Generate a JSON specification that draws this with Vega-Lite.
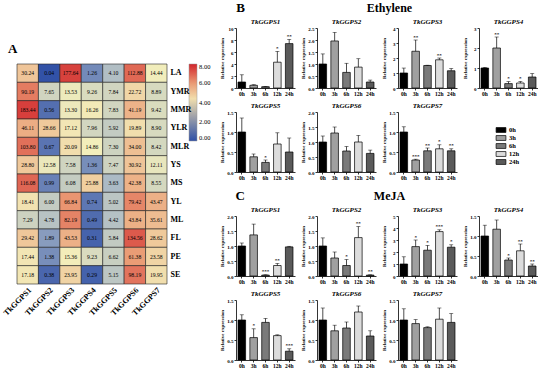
{
"$schema":"https://vega.github.io/schema/vega-lite/v6.json",
"padding":{"left":2,"top":2,"right":0,"bottom":0},
"spacing":8,
"resolve":{"scale":{"color":"independent"},"legend":{"color":"independent"}},
"datasets":{
"heat":[
{"r":"LA","g":"TkGGPS1","val":30.24},{"r":"LA","g":"TkGGPS2","val":0.04},{"r":"LA","g":"TkGGPS3","val":177.64},{"r":"LA","g":"TkGGPS4","val":1.26},{"r":"LA","g":"TkGGPS5","val":4.10},{"r":"LA","g":"TkGGPS6","val":112.88},{"r":"LA","g":"TkGGPS7","val":14.44},
{"r":"YMR","g":"TkGGPS1","val":90.19},{"r":"YMR","g":"TkGGPS2","val":7.65},{"r":"YMR","g":"TkGGPS3","val":13.53},{"r":"YMR","g":"TkGGPS4","val":9.26},{"r":"YMR","g":"TkGGPS5","val":7.84},{"r":"YMR","g":"TkGGPS6","val":22.72},{"r":"YMR","g":"TkGGPS7","val":8.89},
{"r":"MMR","g":"TkGGPS1","val":183.44},{"r":"MMR","g":"TkGGPS2","val":0.56},{"r":"MMR","g":"TkGGPS3","val":13.30},{"r":"MMR","g":"TkGGPS4","val":16.26},{"r":"MMR","g":"TkGGPS5","val":7.83},{"r":"MMR","g":"TkGGPS6","val":41.19},{"r":"MMR","g":"TkGGPS7","val":9.42},
{"r":"YLR","g":"TkGGPS1","val":46.11},{"r":"YLR","g":"TkGGPS2","val":28.66},{"r":"YLR","g":"TkGGPS3","val":17.12},{"r":"YLR","g":"TkGGPS4","val":7.96},{"r":"YLR","g":"TkGGPS5","val":5.92},{"r":"YLR","g":"TkGGPS6","val":19.89},{"r":"YLR","g":"TkGGPS7","val":8.90},
{"r":"MLR","g":"TkGGPS1","val":103.80},{"r":"MLR","g":"TkGGPS2","val":0.67},{"r":"MLR","g":"TkGGPS3","val":20.09},{"r":"MLR","g":"TkGGPS4","val":14.86},{"r":"MLR","g":"TkGGPS5","val":7.30},{"r":"MLR","g":"TkGGPS6","val":34.00},{"r":"MLR","g":"TkGGPS7","val":8.42},
{"r":"YS","g":"TkGGPS1","val":28.80},{"r":"YS","g":"TkGGPS2","val":12.58},{"r":"YS","g":"TkGGPS3","val":7.58},{"r":"YS","g":"TkGGPS4","val":1.36},{"r":"YS","g":"TkGGPS5","val":7.47},{"r":"YS","g":"TkGGPS6","val":30.92},{"r":"YS","g":"TkGGPS7","val":12.11},
{"r":"MS","g":"TkGGPS1","val":116.08},{"r":"MS","g":"TkGGPS2","val":0.99},{"r":"MS","g":"TkGGPS3","val":6.08},{"r":"MS","g":"TkGGPS4","val":25.88},{"r":"MS","g":"TkGGPS5","val":3.63},{"r":"MS","g":"TkGGPS6","val":42.38},{"r":"MS","g":"TkGGPS7","val":8.55},
{"r":"YL","g":"TkGGPS1","val":18.41},{"r":"YL","g":"TkGGPS2","val":6.00},{"r":"YL","g":"TkGGPS3","val":66.84},{"r":"YL","g":"TkGGPS4","val":0.74},{"r":"YL","g":"TkGGPS5","val":5.02},{"r":"YL","g":"TkGGPS6","val":79.42},{"r":"YL","g":"TkGGPS7","val":43.47},
{"r":"ML","g":"TkGGPS1","val":7.29},{"r":"ML","g":"TkGGPS2","val":4.78},{"r":"ML","g":"TkGGPS3","val":82.19},{"r":"ML","g":"TkGGPS4","val":0.49},{"r":"ML","g":"TkGGPS5","val":4.42},{"r":"ML","g":"TkGGPS6","val":43.84},{"r":"ML","g":"TkGGPS7","val":35.61},
{"r":"FL","g":"TkGGPS1","val":29.42},{"r":"FL","g":"TkGGPS2","val":1.89},{"r":"FL","g":"TkGGPS3","val":43.53},{"r":"FL","g":"TkGGPS4","val":0.31},{"r":"FL","g":"TkGGPS5","val":5.84},{"r":"FL","g":"TkGGPS6","val":134.56},{"r":"FL","g":"TkGGPS7","val":28.62},
{"r":"PE","g":"TkGGPS1","val":17.44},{"r":"PE","g":"TkGGPS2","val":1.38},{"r":"PE","g":"TkGGPS3","val":15.36},{"r":"PE","g":"TkGGPS4","val":9.23},{"r":"PE","g":"TkGGPS5","val":6.62},{"r":"PE","g":"TkGGPS6","val":61.38},{"r":"PE","g":"TkGGPS7","val":23.58},
{"r":"SE","g":"TkGGPS1","val":17.18},{"r":"SE","g":"TkGGPS2","val":0.38},{"r":"SE","g":"TkGGPS3","val":23.95},{"r":"SE","g":"TkGGPS4","val":0.29},{"r":"SE","g":"TkGGPS5","val":5.15},{"r":"SE","g":"TkGGPS6","val":98.19},{"r":"SE","g":"TkGGPS7","val":19.95}
],
"bars":[
{"t":"E","g":"TkGGPS1","time":"0h","v":1.0,"hi":2.2,"sig":""},{"t":"E","g":"TkGGPS1","time":"3h","v":0.45,"hi":0.55,"sig":""},{"t":"E","g":"TkGGPS1","time":"6h","v":0.22,"hi":0.27,"sig":""},{"t":"E","g":"TkGGPS1","time":"12h","v":4.3,"hi":6.1,"sig":"*"},{"t":"E","g":"TkGGPS1","time":"24h","v":7.4,"hi":8.1,"sig":"**"},
{"t":"E","g":"TkGGPS2","time":"0h","v":1.0,"hi":1.42,"sig":""},{"t":"E","g":"TkGGPS2","time":"3h","v":1.96,"hi":2.32,"sig":""},{"t":"E","g":"TkGGPS2","time":"6h","v":0.65,"hi":1.03,"sig":""},{"t":"E","g":"TkGGPS2","time":"12h","v":0.87,"hi":1.22,"sig":""},{"t":"E","g":"TkGGPS2","time":"24h","v":0.25,"hi":0.33,"sig":""},
{"t":"E","g":"TkGGPS3","time":"0h","v":1.0,"hi":1.33,"sig":""},{"t":"E","g":"TkGGPS3","time":"3h","v":2.45,"hi":3.2,"sig":"**"},{"t":"E","g":"TkGGPS3","time":"6h","v":1.5,"hi":1.52,"sig":""},{"t":"E","g":"TkGGPS3","time":"12h","v":1.88,"hi":2.0,"sig":"**"},{"t":"E","g":"TkGGPS3","time":"24h","v":1.15,"hi":1.3,"sig":""},
{"t":"E","g":"TkGGPS4","time":"0h","v":1.0,"hi":1.03,"sig":""},{"t":"E","g":"TkGGPS4","time":"3h","v":2.0,"hi":2.55,"sig":"**"},{"t":"E","g":"TkGGPS4","time":"6h","v":0.22,"hi":0.32,"sig":"*"},{"t":"E","g":"TkGGPS4","time":"12h","v":0.25,"hi":0.33,"sig":"*"},{"t":"E","g":"TkGGPS4","time":"24h","v":0.55,"hi":0.72,"sig":""},
{"t":"E","g":"TkGGPS5","time":"0h","v":1.0,"hi":1.35,"sig":""},{"t":"E","g":"TkGGPS5","time":"3h","v":0.38,"hi":0.45,"sig":""},{"t":"E","g":"TkGGPS5","time":"6h","v":0.24,"hi":0.3,"sig":"*"},{"t":"E","g":"TkGGPS5","time":"12h","v":0.7,"hi":0.98,"sig":""},{"t":"E","g":"TkGGPS5","time":"24h","v":0.5,"hi":0.85,"sig":""},
{"t":"E","g":"TkGGPS6","time":"0h","v":1.0,"hi":1.2,"sig":""},{"t":"E","g":"TkGGPS6","time":"3h","v":1.3,"hi":1.5,"sig":""},{"t":"E","g":"TkGGPS6","time":"6h","v":0.7,"hi":0.85,"sig":""},{"t":"E","g":"TkGGPS6","time":"12h","v":1.0,"hi":1.22,"sig":""},{"t":"E","g":"TkGGPS6","time":"24h","v":0.62,"hi":0.73,"sig":""},
{"t":"E","g":"TkGGPS7","time":"0h","v":1.0,"hi":1.13,"sig":""},{"t":"E","g":"TkGGPS7","time":"3h","v":0.3,"hi":0.32,"sig":"***"},{"t":"E","g":"TkGGPS7","time":"6h","v":0.53,"hi":0.6,"sig":"**"},{"t":"E","g":"TkGGPS7","time":"12h","v":0.58,"hi":0.68,"sig":"*"},{"t":"E","g":"TkGGPS7","time":"24h","v":0.53,"hi":0.58,"sig":"**"},
{"t":"M","g":"TkGGPS1","time":"0h","v":1.0,"hi":1.1,"sig":""},{"t":"M","g":"TkGGPS1","time":"3h","v":1.37,"hi":1.73,"sig":""},{"t":"M","g":"TkGGPS1","time":"6h","v":0.03,"hi":0.04,"sig":"***"},{"t":"M","g":"TkGGPS1","time":"12h","v":0.35,"hi":0.42,"sig":"**"},{"t":"M","g":"TkGGPS1","time":"24h","v":0.97,"hi":0.99,"sig":""},
{"t":"M","g":"TkGGPS2","time":"0h","v":1.0,"hi":1.27,"sig":""},{"t":"M","g":"TkGGPS2","time":"3h","v":0.6,"hi":0.8,"sig":""},{"t":"M","g":"TkGGPS2","time":"6h","v":0.35,"hi":0.55,"sig":"*"},{"t":"M","g":"TkGGPS2","time":"12h","v":1.28,"hi":1.65,"sig":"**"},{"t":"M","g":"TkGGPS2","time":"24h","v":0.03,"hi":0.04,"sig":"**"},
{"t":"M","g":"TkGGPS3","time":"0h","v":1.0,"hi":1.6,"sig":""},{"t":"M","g":"TkGGPS3","time":"3h","v":2.45,"hi":3.0,"sig":"*"},{"t":"M","g":"TkGGPS3","time":"6h","v":2.15,"hi":2.55,"sig":"*"},{"t":"M","g":"TkGGPS3","time":"12h","v":3.7,"hi":3.85,"sig":"***"},{"t":"M","g":"TkGGPS3","time":"24h","v":2.4,"hi":2.6,"sig":"*"},
{"t":"M","g":"TkGGPS4","time":"0h","v":1.0,"hi":1.27,"sig":""},{"t":"M","g":"TkGGPS4","time":"3h","v":1.17,"hi":1.4,"sig":""},{"t":"M","g":"TkGGPS4","time":"6h","v":0.4,"hi":0.45,"sig":"*"},{"t":"M","g":"TkGGPS4","time":"12h","v":0.63,"hi":0.8,"sig":"**"},{"t":"M","g":"TkGGPS4","time":"24h","v":0.25,"hi":0.3,"sig":"**"},
{"t":"M","g":"TkGGPS5","time":"0h","v":1.0,"hi":1.13,"sig":""},{"t":"M","g":"TkGGPS5","time":"3h","v":0.56,"hi":0.78,"sig":"*"},{"t":"M","g":"TkGGPS5","time":"6h","v":0.94,"hi":1.04,"sig":""},{"t":"M","g":"TkGGPS5","time":"12h","v":0.61,"hi":0.63,"sig":""},{"t":"M","g":"TkGGPS5","time":"24h","v":0.22,"hi":0.28,"sig":"***"},
{"t":"M","g":"TkGGPS6","time":"0h","v":1.0,"hi":1.3,"sig":""},{"t":"M","g":"TkGGPS6","time":"3h","v":0.73,"hi":0.87,"sig":""},{"t":"M","g":"TkGGPS6","time":"6h","v":0.8,"hi":0.95,"sig":""},{"t":"M","g":"TkGGPS6","time":"12h","v":1.2,"hi":1.35,"sig":""},{"t":"M","g":"TkGGPS6","time":"24h","v":0.6,"hi":0.73,"sig":""},
{"t":"M","g":"TkGGPS7","time":"0h","v":1.0,"hi":1.28,"sig":""},{"t":"M","g":"TkGGPS7","time":"3h","v":0.91,"hi":1.01,"sig":""},{"t":"M","g":"TkGGPS7","time":"6h","v":0.81,"hi":0.83,"sig":""},{"t":"M","g":"TkGGPS7","time":"12h","v":1.02,"hi":1.3,"sig":""},{"t":"M","g":"TkGGPS7","time":"24h","v":0.94,"hi":1.16,"sig":""}
]},
"hconcat":[
{"spacing":13,
"resolve":{"scale":{"color":"independent"},"legend":{"color":"independent"}},
"vconcat":[
{"width":1,"height":1,"data":{"values":[]},"mark":"point"},
{
"data":{"name":"heat"},
"width":150,"height":220,
"title":{"text":"A","anchor":"start","frame":"group","fontSize":13,"fontWeight":"bold","fontStyle":"normal","offset":8,"dx":-9},
"encoding":{
 "x":{"field":"g","type":"nominal","sort":["TkGGPS1","TkGGPS2","TkGGPS3","TkGGPS4","TkGGPS5","TkGGPS6","TkGGPS7"],"title":null,
  "axis":{"orient":"bottom","labelAngle":-45,"labelFontSize":8,"labelFontWeight":"bold","ticks":false,"domain":false,"labelPadding":2}},
 "y":{"field":"r","type":"nominal","sort":["LA","YMR","MMR","YLR","MLR","YS","MS","YL","ML","FL","PE","SE"],"title":null,
  "axis":{"orient":"right","labelFontSize":8,"labelFontWeight":"bold","ticks":false,"domain":false,"labelPadding":3,"minExtent":0,"maxExtent":100}}
},
"layer":[
 {"mark":{"type":"rect","stroke":"#222222","strokeWidth":0.6},
  "encoding":{"color":{"field":"val","type":"quantitative",
   "scale":{"type":"symlog","domain":[0,3,15,63,255],"range":["#2f4fa6","#a3b4c6","#f3eebb","#ea9a74","#d1232a"],"interpolate":"rgb","clamp":true},
   "legend":{"orient":"right","offset":-2,"padding":0,"title":null,"direction":"vertical","gradientLength":77,"gradientThickness":8,"values":[0,3,15,63,255],"labelExpr":"format(log(datum.value+1)/log(2),'.2f')","labelFont":"Liberation Serif","labelFontWeight":"normal","labelFontSize":6.5,"labelColor":"black","labelOffset":2,"gradientStrokeColor":"#999","gradientStrokeWidth":0.5}}}},
 {"mark":{"type":"text","fontSize":5.7,"baseline":"middle","dy":0,"fontWeight":"normal","font":"Liberation Serif","color":"black"},
  "encoding":{"text":{"field":"val","type":"quantitative","format":".2f"}}}
]
}]},
{
"data":{"name":"bars"},
"spacing":9,
"vconcat":[
{"title":{"text":"B","orient":"left","angle":0,"anchor":"end","frame":"bounds","align":"left","baseline":"top","fontSize":13,"fontStyle":"normal","offset":0,"dx":26},
 "vconcat":[{"title":{"text":"Ethylene","fontSize":12,"fontStyle":"normal","anchor":"middle","offset":3,"dx":11},
  "spacing":5,
  "vconcat":[
  {"hconcat":[
   {"width":59,"height":60,"title":"TkGGPS1","transform":[{"filter":"datum.t==='E'&&datum.g==='TkGGPS1'"}],
    "encoding":{"x":{"field":"time","type":"nominal","sort":["0h","3h","6h","12h","24h"],"title":null,"scale":{"paddingInner":0.36,"paddingOuter":0.17}},
     "y":{"field":"v","type":"quantitative","title":"Relative expression","scale":{"domain":[0,10]},"axis":{"values":[0,2,4,6,8,10],"format":"d"}}},
    "layer":[{"mark":"bar","encoding":{"fill":{"field":"time","type":"nominal","scale":{"domain":["0h","3h","6h","12h","24h"],"range":["#000000","#a0a0a0","#7a7a7a","#dcdcdc","#5a5a5a"]}}}},
     {"mark":"rule","encoding":{"y2":{"field":"hi"}}},
     {"mark":{"type":"tick","size":4},"encoding":{"y":{"field":"hi","type":"quantitative","title":"Relative expression","scale":{"domain":[0,10]},"axis":{"values":[0,2,4,6,8,10],"format":"d"}}}},
     {"mark":"text","encoding":{"y":{"field":"hi","type":"quantitative","title":"Relative expression","scale":{"domain":[0,10]},"axis":{"values":[0,2,4,6,8,10],"format":"d"}},"text":{"field":"sig"}}}]},
   {"width":59,"height":60,"title":"TkGGPS2","transform":[{"filter":"datum.t==='E'&&datum.g==='TkGGPS2'"}],
    "encoding":{"x":{"field":"time","type":"nominal","sort":["0h","3h","6h","12h","24h"],"title":null,"scale":{"paddingInner":0.36,"paddingOuter":0.17}},
     "y":{"field":"v","type":"quantitative","title":"Relative expression","scale":{"domain":[0,2.5]},"axis":{"values":[0,0.5,1,1.5,2,2.5],"format":".1f"}}},
    "layer":[{"mark":"bar","encoding":{"fill":{"field":"time","type":"nominal","scale":{"domain":["0h","3h","6h","12h","24h"],"range":["#000000","#a0a0a0","#7a7a7a","#dcdcdc","#5a5a5a"]}}}},
     {"mark":"rule","encoding":{"y2":{"field":"hi"}}},
     {"mark":{"type":"tick","size":4},"encoding":{"y":{"field":"hi","type":"quantitative","title":"Relative expression","scale":{"domain":[0,2.5]},"axis":{"values":[0,0.5,1,1.5,2,2.5],"format":".1f"}}}},
     {"mark":"text","encoding":{"y":{"field":"hi","type":"quantitative","title":"Relative expression","scale":{"domain":[0,2.5]},"axis":{"values":[0,0.5,1,1.5,2,2.5],"format":".1f"}},"text":{"field":"sig"}}}]},
   {"width":59,"height":60,"title":"TkGGPS3","transform":[{"filter":"datum.t==='E'&&datum.g==='TkGGPS3'"}],
    "encoding":{"x":{"field":"time","type":"nominal","sort":["0h","3h","6h","12h","24h"],"title":null,"scale":{"paddingInner":0.36,"paddingOuter":0.17}},
     "y":{"field":"v","type":"quantitative","title":"Relative expression","scale":{"domain":[0,4]},"axis":{"values":[0,1,2,3,4],"format":"d"}}},
    "layer":[{"mark":"bar","encoding":{"fill":{"field":"time","type":"nominal","scale":{"domain":["0h","3h","6h","12h","24h"],"range":["#000000","#a0a0a0","#7a7a7a","#dcdcdc","#5a5a5a"]}}}},
     {"mark":"rule","encoding":{"y2":{"field":"hi"}}},
     {"mark":{"type":"tick","size":4},"encoding":{"y":{"field":"hi","type":"quantitative","title":"Relative expression","scale":{"domain":[0,4]},"axis":{"values":[0,1,2,3,4],"format":"d"}}}},
     {"mark":"text","encoding":{"y":{"field":"hi","type":"quantitative","title":"Relative expression","scale":{"domain":[0,4]},"axis":{"values":[0,1,2,3,4],"format":"d"}},"text":{"field":"sig"}}}]},
   {"width":59,"height":60,"title":"TkGGPS4","transform":[{"filter":"datum.t==='E'&&datum.g==='TkGGPS4'"}],
    "encoding":{"x":{"field":"time","type":"nominal","sort":["0h","3h","6h","12h","24h"],"title":null,"scale":{"paddingInner":0.36,"paddingOuter":0.17}},
     "y":{"field":"v","type":"quantitative","title":"Relative expression","scale":{"domain":[0,3]},"axis":{"values":[0,1,2,3],"format":"d"}}},
    "layer":[{"mark":"bar","encoding":{"fill":{"field":"time","type":"nominal","scale":{"domain":["0h","3h","6h","12h","24h"],"range":["#000000","#a0a0a0","#7a7a7a","#dcdcdc","#5a5a5a"]}}}},
     {"mark":"rule","encoding":{"y2":{"field":"hi"}}},
     {"mark":{"type":"tick","size":4},"encoding":{"y":{"field":"hi","type":"quantitative","title":"Relative expression","scale":{"domain":[0,3]},"axis":{"values":[0,1,2,3],"format":"d"}}}},
     {"mark":"text","encoding":{"y":{"field":"hi","type":"quantitative","title":"Relative expression","scale":{"domain":[0,3]},"axis":{"values":[0,1,2,3],"format":"d"}},"text":{"field":"sig"}}}]}
  ],"spacing":5},
  {"hconcat":[
   {"width":59,"height":60,"title":"TkGGPS5","transform":[{"filter":"datum.t==='E'&&datum.g==='TkGGPS5'"}],
    "encoding":{"x":{"field":"time","type":"nominal","sort":["0h","3h","6h","12h","24h"],"title":null,"scale":{"paddingInner":0.36,"paddingOuter":0.17}},
     "y":{"field":"v","type":"quantitative","title":"Relative expression","scale":{"domain":[0,1.5]},"axis":{"values":[0,0.5,1,1.5],"format":".1f"}}},
    "layer":[{"mark":"bar","encoding":{"fill":{"field":"time","type":"nominal","scale":{"domain":["0h","3h","6h","12h","24h"],"range":["#000000","#a0a0a0","#7a7a7a","#dcdcdc","#5a5a5a"]}}}},
     {"mark":"rule","encoding":{"y2":{"field":"hi"}}},
     {"mark":{"type":"tick","size":4},"encoding":{"y":{"field":"hi","type":"quantitative","title":"Relative expression","scale":{"domain":[0,1.5]},"axis":{"values":[0,0.5,1,1.5],"format":".1f"}}}},
     {"mark":"text","encoding":{"y":{"field":"hi","type":"quantitative","title":"Relative expression","scale":{"domain":[0,1.5]},"axis":{"values":[0,0.5,1,1.5],"format":".1f"}},"text":{"field":"sig"}}}]},
   {"width":59,"height":60,"title":"TkGGPS6","transform":[{"filter":"datum.t==='E'&&datum.g==='TkGGPS6'"}],
    "encoding":{"x":{"field":"time","type":"nominal","sort":["0h","3h","6h","12h","24h"],"title":null,"scale":{"paddingInner":0.36,"paddingOuter":0.17}},
     "y":{"field":"v","type":"quantitative","title":"Relative expression","scale":{"domain":[0,2]},"axis":{"values":[0,0.5,1,1.5,2],"format":".1f"}}},
    "layer":[{"mark":"bar","encoding":{"fill":{"field":"time","type":"nominal","scale":{"domain":["0h","3h","6h","12h","24h"],"range":["#000000","#a0a0a0","#7a7a7a","#dcdcdc","#5a5a5a"]}}}},
     {"mark":"rule","encoding":{"y2":{"field":"hi"}}},
     {"mark":{"type":"tick","size":4},"encoding":{"y":{"field":"hi","type":"quantitative","title":"Relative expression","scale":{"domain":[0,2]},"axis":{"values":[0,0.5,1,1.5,2],"format":".1f"}}}},
     {"mark":"text","encoding":{"y":{"field":"hi","type":"quantitative","title":"Relative expression","scale":{"domain":[0,2]},"axis":{"values":[0,0.5,1,1.5,2],"format":".1f"}},"text":{"field":"sig"}}}]},
   {"width":59,"height":60,"title":"TkGGPS7","transform":[{"filter":"datum.t==='E'&&datum.g==='TkGGPS7'"}],
    "encoding":{"x":{"field":"time","type":"nominal","sort":["0h","3h","6h","12h","24h"],"title":null,"scale":{"paddingInner":0.36,"paddingOuter":0.17}},
     "y":{"field":"v","type":"quantitative","title":"Relative expression","scale":{"domain":[0,1.5]},"axis":{"values":[0,0.5,1,1.5],"format":".1f"}}},
    "layer":[{"mark":"bar","encoding":{"fill":{"field":"time","type":"nominal","scale":{"domain":["0h","3h","6h","12h","24h"],"range":["#000000","#a0a0a0","#7a7a7a","#dcdcdc","#5a5a5a"]}}}},
     {"mark":"rule","encoding":{"y2":{"field":"hi"}}},
     {"mark":{"type":"tick","size":4},"encoding":{"y":{"field":"hi","type":"quantitative","title":"Relative expression","scale":{"domain":[0,1.5]},"axis":{"values":[0,0.5,1,1.5],"format":".1f"}}}},
     {"mark":"text","encoding":{"y":{"field":"hi","type":"quantitative","title":"Relative expression","scale":{"domain":[0,1.5]},"axis":{"values":[0,0.5,1,1.5],"format":".1f"}},"text":{"field":"sig"}}}]}
  ],"spacing":5}
 ]}]},
{"title":{"text":"C","orient":"left","angle":0,"anchor":"end","frame":"bounds","align":"left","baseline":"top","fontSize":13,"fontStyle":"normal","offset":0,"dx":26},
 "vconcat":[{"title":{"text":"MeJA","fontSize":12,"fontStyle":"normal","anchor":"middle","offset":3,"dx":11},
  "spacing":5,
  "vconcat":[
  {"hconcat":[
   {"width":59,"height":60,"title":"TkGGPS1","transform":[{"filter":"datum.t==='M'&&datum.g==='TkGGPS1'"}],
    "encoding":{"x":{"field":"time","type":"nominal","sort":["0h","3h","6h","12h","24h"],"title":null,"scale":{"paddingInner":0.36,"paddingOuter":0.17}},
     "y":{"field":"v","type":"quantitative","title":"Relative expression","scale":{"domain":[0,2]},"axis":{"values":[0,0.5,1,1.5,2],"format":".1f"}}},
    "layer":[{"mark":"bar","encoding":{"fill":{"field":"time","type":"nominal","scale":{"domain":["0h","3h","6h","12h","24h"],"range":["#000000","#a0a0a0","#7a7a7a","#dcdcdc","#5a5a5a"]}}}},
     {"mark":"rule","encoding":{"y2":{"field":"hi"}}},
     {"mark":{"type":"tick","size":4},"encoding":{"y":{"field":"hi","type":"quantitative","title":"Relative expression","scale":{"domain":[0,2]},"axis":{"values":[0,0.5,1,1.5,2],"format":".1f"}}}},
     {"mark":"text","encoding":{"y":{"field":"hi","type":"quantitative","title":"Relative expression","scale":{"domain":[0,2]},"axis":{"values":[0,0.5,1,1.5,2],"format":".1f"}},"text":{"field":"sig"}}}]},
   {"width":59,"height":60,"title":"TkGGPS2","transform":[{"filter":"datum.t==='M'&&datum.g==='TkGGPS2'"}],
    "encoding":{"x":{"field":"time","type":"nominal","sort":["0h","3h","6h","12h","24h"],"title":null,"scale":{"paddingInner":0.36,"paddingOuter":0.17}},
     "y":{"field":"v","type":"quantitative","title":"Relative expression","scale":{"domain":[0,2]},"axis":{"values":[0,0.5,1,1.5,2],"format":".1f"}}},
    "layer":[{"mark":"bar","encoding":{"fill":{"field":"time","type":"nominal","scale":{"domain":["0h","3h","6h","12h","24h"],"range":["#000000","#a0a0a0","#7a7a7a","#dcdcdc","#5a5a5a"]}}}},
     {"mark":"rule","encoding":{"y2":{"field":"hi"}}},
     {"mark":{"type":"tick","size":4},"encoding":{"y":{"field":"hi","type":"quantitative","title":"Relative expression","scale":{"domain":[0,2]},"axis":{"values":[0,0.5,1,1.5,2],"format":".1f"}}}},
     {"mark":"text","encoding":{"y":{"field":"hi","type":"quantitative","title":"Relative expression","scale":{"domain":[0,2]},"axis":{"values":[0,0.5,1,1.5,2],"format":".1f"}},"text":{"field":"sig"}}}]},
   {"width":59,"height":60,"title":"TkGGPS3","transform":[{"filter":"datum.t==='M'&&datum.g==='TkGGPS3'"}],
    "encoding":{"x":{"field":"time","type":"nominal","sort":["0h","3h","6h","12h","24h"],"title":null,"scale":{"paddingInner":0.36,"paddingOuter":0.17}},
     "y":{"field":"v","type":"quantitative","title":"Relative expression","scale":{"domain":[0,5]},"axis":{"values":[0,1,2,3,4,5],"format":"d"}}},
    "layer":[{"mark":"bar","encoding":{"fill":{"field":"time","type":"nominal","scale":{"domain":["0h","3h","6h","12h","24h"],"range":["#000000","#a0a0a0","#7a7a7a","#dcdcdc","#5a5a5a"]}}}},
     {"mark":"rule","encoding":{"y2":{"field":"hi"}}},
     {"mark":{"type":"tick","size":4},"encoding":{"y":{"field":"hi","type":"quantitative","title":"Relative expression","scale":{"domain":[0,5]},"axis":{"values":[0,1,2,3,4,5],"format":"d"}}}},
     {"mark":"text","encoding":{"y":{"field":"hi","type":"quantitative","title":"Relative expression","scale":{"domain":[0,5]},"axis":{"values":[0,1,2,3,4,5],"format":"d"}},"text":{"field":"sig"}}}]},
   {"width":59,"height":60,"title":"TkGGPS4","transform":[{"filter":"datum.t==='M'&&datum.g==='TkGGPS4'"}],
    "encoding":{"x":{"field":"time","type":"nominal","sort":["0h","3h","6h","12h","24h"],"title":null,"scale":{"paddingInner":0.36,"paddingOuter":0.17}},
     "y":{"field":"v","type":"quantitative","title":"Relative expression","scale":{"domain":[0,1.5]},"axis":{"values":[0,0.5,1,1.5],"format":".1f"}}},
    "layer":[{"mark":"bar","encoding":{"fill":{"field":"time","type":"nominal","scale":{"domain":["0h","3h","6h","12h","24h"],"range":["#000000","#a0a0a0","#7a7a7a","#dcdcdc","#5a5a5a"]}}}},
     {"mark":"rule","encoding":{"y2":{"field":"hi"}}},
     {"mark":{"type":"tick","size":4},"encoding":{"y":{"field":"hi","type":"quantitative","title":"Relative expression","scale":{"domain":[0,1.5]},"axis":{"values":[0,0.5,1,1.5],"format":".1f"}}}},
     {"mark":"text","encoding":{"y":{"field":"hi","type":"quantitative","title":"Relative expression","scale":{"domain":[0,1.5]},"axis":{"values":[0,0.5,1,1.5],"format":".1f"}},"text":{"field":"sig"}}}]}
  ],"spacing":5},
  {"hconcat":[
   {"width":59,"height":60,"title":"TkGGPS5","transform":[{"filter":"datum.t==='M'&&datum.g==='TkGGPS5'"}],
    "encoding":{"x":{"field":"time","type":"nominal","sort":["0h","3h","6h","12h","24h"],"title":null,"scale":{"paddingInner":0.36,"paddingOuter":0.17}},
     "y":{"field":"v","type":"quantitative","title":"Relative expression","scale":{"domain":[0,1.5]},"axis":{"values":[0,0.5,1,1.5],"format":".1f"}}},
    "layer":[{"mark":"bar","encoding":{"fill":{"field":"time","type":"nominal","scale":{"domain":["0h","3h","6h","12h","24h"],"range":["#000000","#a0a0a0","#7a7a7a","#dcdcdc","#5a5a5a"]}}}},
     {"mark":"rule","encoding":{"y2":{"field":"hi"}}},
     {"mark":{"type":"tick","size":4},"encoding":{"y":{"field":"hi","type":"quantitative","title":"Relative expression","scale":{"domain":[0,1.5]},"axis":{"values":[0,0.5,1,1.5],"format":".1f"}}}},
     {"mark":"text","encoding":{"y":{"field":"hi","type":"quantitative","title":"Relative expression","scale":{"domain":[0,1.5]},"axis":{"values":[0,0.5,1,1.5],"format":".1f"}},"text":{"field":"sig"}}}]},
   {"width":59,"height":60,"title":"TkGGPS6","transform":[{"filter":"datum.t==='M'&&datum.g==='TkGGPS6'"}],
    "encoding":{"x":{"field":"time","type":"nominal","sort":["0h","3h","6h","12h","24h"],"title":null,"scale":{"paddingInner":0.36,"paddingOuter":0.17}},
     "y":{"field":"v","type":"quantitative","title":"Relative expression","scale":{"domain":[0,1.5]},"axis":{"values":[0,0.5,1,1.5],"format":".1f"}}},
    "layer":[{"mark":"bar","encoding":{"fill":{"field":"time","type":"nominal","scale":{"domain":["0h","3h","6h","12h","24h"],"range":["#000000","#a0a0a0","#7a7a7a","#dcdcdc","#5a5a5a"]}}}},
     {"mark":"rule","encoding":{"y2":{"field":"hi"}}},
     {"mark":{"type":"tick","size":4},"encoding":{"y":{"field":"hi","type":"quantitative","title":"Relative expression","scale":{"domain":[0,1.5]},"axis":{"values":[0,0.5,1,1.5],"format":".1f"}}}},
     {"mark":"text","encoding":{"y":{"field":"hi","type":"quantitative","title":"Relative expression","scale":{"domain":[0,1.5]},"axis":{"values":[0,0.5,1,1.5],"format":".1f"}},"text":{"field":"sig"}}}]},
   {"width":59,"height":60,"title":"TkGGPS7","transform":[{"filter":"datum.t==='M'&&datum.g==='TkGGPS7'"}],
    "encoding":{"x":{"field":"time","type":"nominal","sort":["0h","3h","6h","12h","24h"],"title":null,"scale":{"paddingInner":0.36,"paddingOuter":0.17}},
     "y":{"field":"v","type":"quantitative","title":"Relative expression","scale":{"domain":[0,1.5]},"axis":{"values":[0,0.5,1,1.5],"format":".1f"}}},
    "layer":[{"mark":"bar","encoding":{"fill":{"field":"time","type":"nominal","scale":{"domain":["0h","3h","6h","12h","24h"],"range":["#000000","#a0a0a0","#7a7a7a","#dcdcdc","#5a5a5a"]}}}},
     {"mark":"rule","encoding":{"y2":{"field":"hi"}}},
     {"mark":{"type":"tick","size":4},"encoding":{"y":{"field":"hi","type":"quantitative","title":"Relative expression","scale":{"domain":[0,1.5]},"axis":{"values":[0,0.5,1,1.5],"format":".1f"}}}},
     {"mark":"text","encoding":{"y":{"field":"hi","type":"quantitative","title":"Relative expression","scale":{"domain":[0,1.5]},"axis":{"values":[0,0.5,1,1.5],"format":".1f"}},"text":{"field":"sig"}}}]}
  ],"spacing":5}
 ]}]}
]
}
],
"config":{
 "view":{"stroke":null},
 "font":"Liberation Serif",
 "axis":{"labelFont":"Liberation Serif","titleFont":"Liberation Serif","labelColor":"black","titleColor":"black","domainColor":"black","tickColor":"black","grid":false,"labelFontWeight":"bold","titleFontWeight":"bold","domainWidth":0.8,"tickWidth":0.8},
 "axisX":{"labelAngle":0,"labelFontSize":5.5,"tickSize":2,"labelPadding":1},
 "axisY":{"labelFontSize":5,"titleFontSize":5,"tickSize":2,"labelPadding":1,"titlePadding":2,"minExtent":10,"maxExtent":10},
 "title":{"font":"Liberation Serif","fontSize":7,"fontWeight":"bold","fontStyle":"italic","offset":1,"color":"black"},
 "bar":{"stroke":"black","strokeWidth":0.7},
 "rule":{"color":"black","strokeWidth":0.7},
 "tick":{"color":"black","thickness":0.7},
 "text":{"fontSize":5,"baseline":"bottom","dy":-0.5,"font":"Liberation Serif","fontWeight":"bold","color":"black"},
 "legend":{"orient":"none","legendX":480,"legendY":98,"title":null,"symbolType":"M-1.4,-0.7H1.4V0.7H-1.4Z","symbolSize":49,"symbolStrokeColor":"black","symbolStrokeWidth":0.8,"symbolOpacity":1,"labelFont":"Liberation Serif","labelFontWeight":"bold","labelFontSize":6.5,"labelColor":"black","rowPadding":0,"labelOffset":4}
}
}
